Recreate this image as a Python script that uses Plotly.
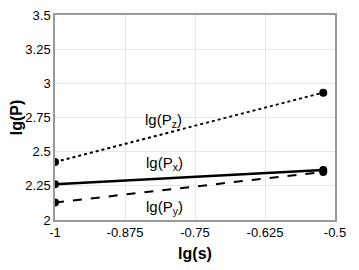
import plotly.graph_objects as go

lg_s = [-1.0, -0.521]
lg_px = [2.262, 2.365]
lg_py = [2.128, 2.352]
lg_pz = [2.425, 2.932]

x_ticks = [-1, -0.875, -0.75, -0.625, -0.5]
x_tick_text = ["-1", "-0.875", "-0.75", "-0.625", "-0.5"]
y_ticks = [2, 2.25, 2.5, 2.75, 3, 3.25, 3.5]
y_tick_text = ["2", "2.25", "2.5", "2.75", "3", "3.25", "3.5"]

fig = go.Figure()
for ys, dash, w in [(lg_pz, "dot", 2), (lg_px, "solid", 2.5), (lg_py, "dash", 2)]:
    fig.add_trace(go.Scatter(x=lg_s, y=ys, mode="lines+markers",
                             line=dict(color="black", dash=dash, width=w),
                             marker=dict(color="black", size=8),
                             cliponaxis=True, showlegend=False))

font = dict(family="Liberation Sans, Arial, sans-serif", color="black")
fig.add_annotation(x=-0.806, y=2.73, text="lg(P<sub>z</sub>)", showarrow=False,
                   font=dict(size=15, **font))
fig.add_annotation(x=-0.804, y=2.41, text="lg(P<sub>x</sub>)", showarrow=False,
                   font=dict(size=15, **font))
fig.add_annotation(x=-0.804, y=2.095, text="lg(P<sub>y</sub>)", showarrow=False,
                   font=dict(size=15, **font))

fig.update_layout(
    width=359, height=270,
    margin=dict(l=47, r=32, t=7, b=58, autoexpand=False),
    paper_bgcolor="white", plot_bgcolor="white",
    font=dict(size=13, **font),
)
fig.update_xaxes(range=[-1, -0.5], tickvals=x_ticks, ticktext=x_tick_text,
                 showgrid=True, gridcolor="#e6e6e6", showline=True, linecolor="#999999",
                 linewidth=1.5, mirror=True, zeroline=False, ticks="",
                 ticklabeloverflow="allow",
                 title=dict(text="<b>lg(s)</b>", font=dict(size=16, **font), standoff=8),
                 tickfont=dict(size=13, **font))
fig.update_yaxes(range=[2, 3.5], tickvals=y_ticks, ticktext=y_tick_text,
                 showgrid=True, gridcolor="#e6e6e6", showline=True, linecolor="#999999",
                 linewidth=1.5, mirror=True, zeroline=False, ticks="",
                 ticklabeloverflow="allow",
                 title=dict(text="<b>lg(P)</b>", font=dict(size=16, **font), standoff=4),
                 tickfont=dict(size=13, **font))

fig.write_html("out.html")
